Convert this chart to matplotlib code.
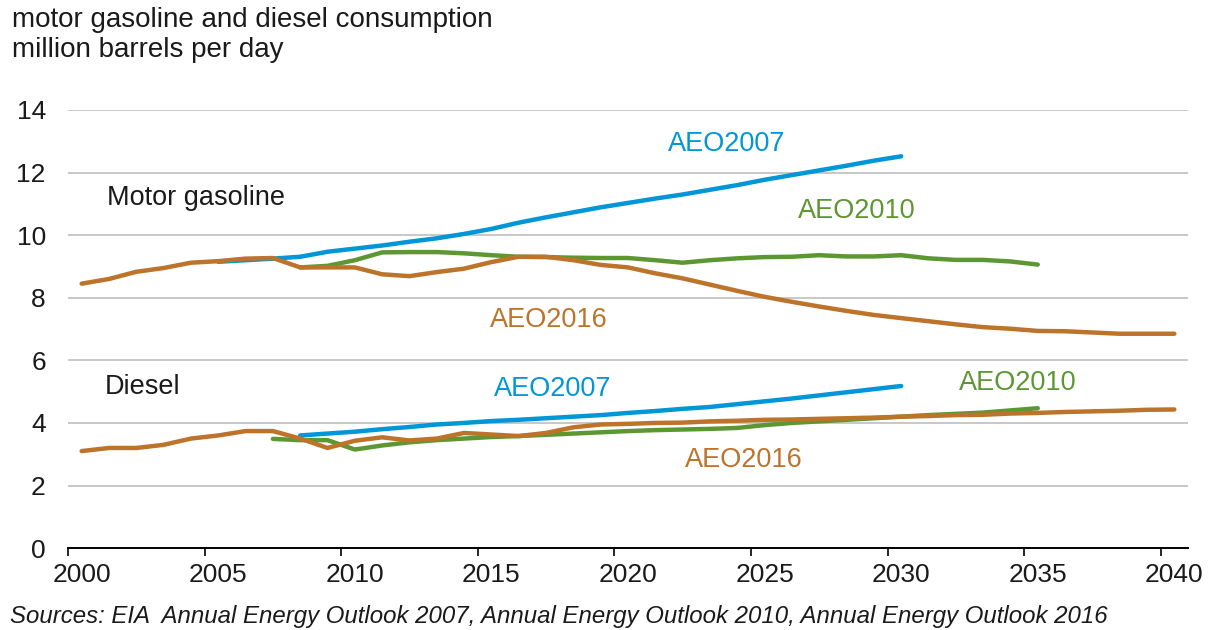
import numpy as np
import matplotlib
matplotlib.use("Agg")
import matplotlib.pyplot as plt
from matplotlib.ticker import FixedLocator, NullFormatter

plt.rcParams['font.family'] = ['Liberation Sans', 'DejaVu Sans']

BLUE = '#0096d7'
GREEN = '#5d9732'
ORANGE = '#bd732a'

# gasoline, million barrels per day
gas_2016_years = list(range(2000, 2041))
gas_2016 = [8.45, 8.6, 8.83, 8.95, 9.12, 9.17, 9.25, 9.27, 8.97, 8.97,
            8.97, 8.75, 8.69, 8.82, 8.93, 9.14, 9.31, 9.31, 9.2, 9.05,
            8.97, 8.78, 8.62, 8.42, 8.22, 8.03, 7.87, 7.72, 7.58, 7.45,
            7.35, 7.25, 7.15, 7.06, 7.01, 6.94, 6.93, 6.89, 6.85, 6.85, 6.85]

gas_2007_years = list(range(2005, 2031))
gas_2007 = [9.15, 9.2, 9.25, 9.31, 9.47, 9.57, 9.67, 9.79, 9.9, 10.04,
            10.2, 10.4, 10.57, 10.73, 10.89, 11.03, 11.17, 11.3, 11.45, 11.6,
            11.77, 11.92, 12.07, 12.22, 12.38, 12.52]

gas_2010_years = list(range(2008, 2036))
gas_2010 = [8.97, 9.02, 9.2, 9.45, 9.46, 9.46, 9.42, 9.36, 9.31, 9.3,
            9.28, 9.27, 9.27, 9.2, 9.12, 9.2, 9.26, 9.3, 9.31, 9.36,
            9.32, 9.32, 9.36, 9.26, 9.21, 9.21, 9.16, 9.06]

# diesel
dsl_2016_years = list(range(2000, 2041))
dsl_2016 = [3.1, 3.2, 3.2, 3.3, 3.5, 3.6, 3.74, 3.74, 3.5, 3.2,
            3.43, 3.54, 3.44, 3.5, 3.68, 3.63, 3.58, 3.68, 3.86, 3.95,
            3.97, 4.0, 4.01, 4.05, 4.07, 4.1, 4.11, 4.13, 4.15, 4.17,
            4.2, 4.22, 4.25, 4.26, 4.3, 4.32, 4.35, 4.37, 4.39, 4.42, 4.43]

dsl_2007_years = list(range(2008, 2031))
dsl_2007 = [3.6, 3.66, 3.72, 3.8, 3.87, 3.95, 4.0, 4.06, 4.1, 4.15,
            4.2, 4.25, 4.32, 4.38, 4.45, 4.51, 4.6, 4.69, 4.78, 4.88,
            4.98, 5.08, 5.18]

dsl_2010_years = list(range(2007, 2036))
dsl_2010 = [3.49, 3.45, 3.45, 3.15, 3.28, 3.38, 3.45, 3.5, 3.55, 3.58,
            3.62, 3.66, 3.7, 3.74, 3.77, 3.79, 3.81, 3.84, 3.93, 4.0,
            4.05, 4.1, 4.15, 4.2, 4.25, 4.29, 4.33, 4.4, 4.47]

x_labels = ['2000', '2005', '2010', '2015', '2020', '2025', '2030', '2035', '2040']
y_ticks = [0, 2, 4, 6, 8, 10, 12, 14]

fig = plt.figure(figsize=(12.12, 6.3), dpi=100)
ax = fig.add_axes([0.0561, 0.130, 0.9241, 0.6954])

# excel-style category axis: each year sits in the middle of its slot
series = [
    (gas_2007_years, gas_2007, BLUE),
    (gas_2010_years, gas_2010, GREEN),
    (gas_2016_years, gas_2016, ORANGE),
    (dsl_2007_years, dsl_2007, BLUE),
    (dsl_2010_years, dsl_2010, GREEN),
    (dsl_2016_years, dsl_2016, ORANGE),
]
for yrs, vals, col in series:
    ax.plot(np.array(yrs) + 0.5, vals, color=col, lw=3.2, solid_capstyle='round', zorder=3)

ax.set_xlim(2000, 2041)
ax.set_ylim(0, 14)

major = [int(l) for l in x_labels]
ax.xaxis.set_major_locator(FixedLocator(major))
ax.xaxis.set_major_formatter(NullFormatter())
ax.xaxis.set_minor_locator(FixedLocator([m + 0.5 for m in major]))
ax.set_xticklabels(x_labels, minor=True)
ax.tick_params(axis='x', which='major', length=6, width=1.2, color='black', direction='out')
ax.tick_params(axis='x', which='minor', length=0, pad=11, labelsize=19, labelcolor='#1a1a1a')

ax.set_yticks(y_ticks)
ax.set_yticklabels([str(v) for v in y_ticks])
ax.tick_params(axis='y', length=0, pad=16, labelsize=19, labelcolor='#1a1a1a')

ax.grid(axis='y', color='#bfbfbf', lw=1.2, zorder=0)
ax.set_axisbelow(True)
for s in ['top', 'right', 'left']:
    ax.spines[s].set_visible(False)
ax.spines['bottom'].set_color('black')
ax.spines['bottom'].set_linewidth(1.4)
ax.spines['bottom'].set_zorder(4)

fs = 19.5
ax.text(2001.43, 11.2, 'Motor gasoline', fontsize=fs, color='#1a1a1a', va='center', ha='left')
ax.text(2001.35, 5.16, 'Diesel', fontsize=fs, color='#1a1a1a', va='center', ha='left')
ax.text(2024.1, 12.9, 'AEO2007', fontsize=fs, color=BLUE, va='center', ha='center')
ax.text(2028.86, 10.76, 'AEO2010', fontsize=fs, color=GREEN, va='center', ha='center')
ax.text(2017.6, 7.3, 'AEO2016', fontsize=fs, color=ORANGE, va='center', ha='center')
ax.text(2017.76, 5.07, 'AEO2007', fontsize=fs, color=BLUE, va='center', ha='center')
ax.text(2034.78, 5.29, 'AEO2010', fontsize=fs, color=GREEN, va='center', ha='center')
ax.text(2024.74, 2.83, 'AEO2016', fontsize=fs, color=ORANGE, va='center', ha='center')

fig.text(12 / 1212, 1 - 20 / 630, 'motor gasoline and diesel consumption',
         fontsize=20, color='#1a1a1a', va='center', ha='left')
fig.text(12 / 1212, 1 - 50 / 630, 'million barrels per day',
         fontsize=20, color='#1a1a1a', va='center', ha='left')
fig.text(10 / 1212, 1 - 617 / 630,
         'Sources: EIA  Annual Energy Outlook 2007, Annual Energy Outlook 2010, Annual Energy Outlook 2016',
         fontsize=17.3, style='italic', color='#1a1a1a', va='center', ha='left')

fig.savefig('out.png', dpi=100)
